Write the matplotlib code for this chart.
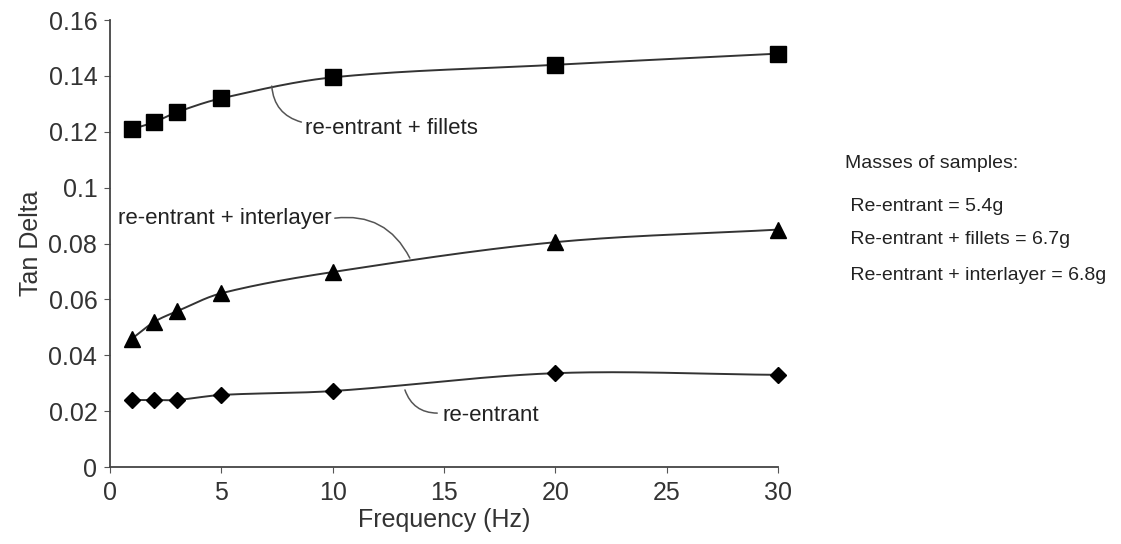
import numpy as np
import matplotlib.pyplot as plt

# Data
freq = [1, 2, 3, 5, 10, 20, 30]
fillets = [0.121, 0.1235, 0.127, 0.132, 0.1395, 0.1440, 0.1480]
interlayer = [0.046, 0.052, 0.0557, 0.0622, 0.0698, 0.0805, 0.0850]
reentrant = [0.024, 0.024, 0.024, 0.0258, 0.0272, 0.0336, 0.0330]

masses = ['Masses of samples:',
          ' Re-entrant = 5.4g',
          ' Re-entrant + fillets = 6.7g',
          ' Re-entrant + interlayer = 6.8g']

plt.rcParams['font.family'] = ['Liberation Sans', 'DejaVu Sans']


def smooth(x, y, n=40):
    # cubic Hermite curve through the points (similar to Excel's smoothed line)
    x = np.asarray(x, float)
    y = np.asarray(y, float)
    k = len(x)
    m = np.empty(k)
    for i in range(k):
        a, b = max(i - 1, 0), min(i + 1, k - 1)
        m[i] = (y[b] - y[a]) / (x[b] - x[a])
    xs, ys = [], []
    for i in range(k - 1):
        h = x[i + 1] - x[i]
        t = np.linspace(0, 1, n)
        h00 = 2 * t**3 - 3 * t**2 + 1
        h10 = t**3 - 2 * t**2 + t
        h01 = -2 * t**3 + 3 * t**2
        h11 = t**3 - t**2
        xs.extend(x[i] + t * h)
        ys.extend(h00 * y[i] + h10 * h * m[i] + h01 * y[i + 1] + h11 * h * m[i + 1])
    return xs, ys


fig = plt.figure(figsize=(11.21, 5.44), dpi=100)
ax = fig.add_axes([0.098, 0.1415, 0.596, 0.8215])

for y, m, ms in [(fillets, 's', 11), (interlayer, '^', 12), (reentrant, 'D', 8.5)]:
    sx, sy = smooth(freq, y)
    ax.plot(sx, sy, color='#333333', lw=1.4)
    ax.plot(freq, y, ls='none', marker=m, ms=ms, color='black', clip_on=False, zorder=3)

ax.set_xlim(0, 30)
ax.set_ylim(0, 0.16)
ax.set_xticks(range(0, 31, 5))
ax.set_yticks(np.arange(0, 0.161, 0.02))
ax.set_yticklabels(['0', '0.02', '0.04', '0.06', '0.08', '0.1', '0.12', '0.14', '0.16'])
ax.spines['top'].set_visible(False)
ax.spines['right'].set_visible(False)
for s in ['left', 'bottom']:
    ax.spines[s].set_color('#444444')
    ax.spines[s].set_linewidth(1.3)
ax.tick_params(labelsize=18, length=4, color='#555555', labelcolor='#333333')
ax.tick_params(axis='x', pad=6)
ax.tick_params(axis='y', pad=5)
ax.set_xlabel('Frequency (Hz)', fontsize=18, color='#333333', labelpad=2)
ax.set_ylabel('Tan Delta', fontsize=18, color='#333333', labelpad=4)

arrow = dict(arrowstyle='-', color='#555555', lw=1.1, shrinkA=0, shrinkB=0)
# leader lines
ax.annotate('', xy=(8.6, 0.1235), xytext=(7.27, 0.1364),
            arrowprops=dict(connectionstyle='arc3,rad=0.35', **arrow))
ax.annotate('', xy=(13.47, 0.0748), xytext=(10.1, 0.0891),
            arrowprops=dict(connectionstyle='arc3,rad=-0.35', **arrow))
ax.annotate('', xy=(14.7, 0.0193), xytext=(13.25, 0.0276),
            arrowprops=dict(connectionstyle='arc3,rad=0.35', **arrow))

ax.text(8.75, 0.1213, 're-entrant + fillets', fontsize=16, va='center', color='#222222')
ax.text(0.36, 0.0891, 're-entrant + interlayer', fontsize=16, va='center', color='#222222')
ax.text(14.95, 0.0186, 're-entrant', fontsize=16, va='center', color='#222222')

ys = [0.70, 0.621, 0.559, 0.494]
for txt, yy in zip(masses, ys):
    fig.text(0.754, yy, txt, fontsize=14, color='#222222', va='center')

fig.savefig('out.png', dpi=100, facecolor='white')
